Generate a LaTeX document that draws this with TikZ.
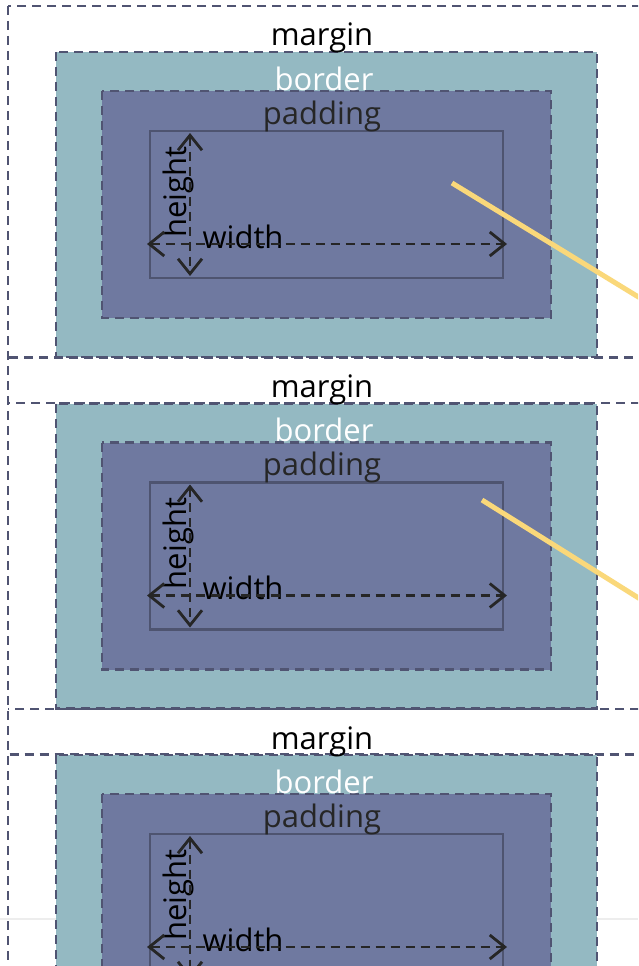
\documentclass[tikz,border=0pt]{standalone}
\usepackage{fontspec}
\setmainfont{Open Sans}
\usetikzlibrary{arrows.meta}

\definecolor{bordercol}{RGB}{148,185,194}
\definecolor{paddingcol}{RGB}{111,121,160}
\definecolor{edgecol}{RGB}{80,84,114}
\definecolor{contentcol}{RGB}{78,84,112}
\definecolor{pointercol}{RGB}{250,216,122}

\begin{document}
\begin{tikzpicture}[x=1pt, y=-1pt,
  boxline/.style={draw=edgecol, line width=2.8pt, dash pattern=on 9pt off 6pt},
  boxtext/.style={font=\fontsize{31}{36}\selectfont, inner sep=0pt, anchor=base},
  measure/.style={draw=black!85, line width=2.8pt, dash pattern=on 9pt off 6pt,
    {Straight Barb[length=15pt,width=24pt]}-{Straight Barb[length=15pt,width=24pt]}}]
\useasboundingbox (0,0) rectangle (638,966);
\clip (0,0) rectangle (638,966);
\fill[white] (0,0) rectangle (638,966);

% Faint line across the page
\draw[black!7, line width=2pt] (0,919) -- (638,919);

% Three stacked boxes
\foreach \n/\dy in {1/0, 2/351.5, 3/703} {
  \pgfmathsetmacro\ph{mod(\dy,15)}
  \begin{scope}[shift={(0,\dy)}]
    % Border and padding
    \filldraw[boxline, fill=bordercol] (56,52) rectangle (597,357);
    \filldraw[boxline, fill=paddingcol] (102,91) rectangle (551,318);
    % Content
    \draw[draw=contentcol, line width=2.6pt] (150,131) rectangle (503,278);
    % Margin
    \draw[boxline, dash phase=\ph pt] (8,6) rectangle (670,403);

    % Labels
    \node[boxtext] (marginlbl\n) at (322,46) {margin};
    \node[boxtext, text=white] (borderlbl\n) at (324,90) {border};
    \node[boxtext, text=black!85] (paddinglbl\n) at (322,124) {padding};
    \node[boxtext] (widthlbl\n) at (243,248) {width};
    \node[boxtext, rotate=90] (heightlbl\n) at (186,192) {height};

    % Width and height
    \coordinate (wl\n) at (147,244);
    \coordinate (wr\n) at (507,244);
    \coordinate (ht\n) at (190,133);
    \coordinate (hb\n) at (190,276);
    \draw[measure] (wl\n) -- (wr\n);
    \draw[measure] (ht\n) -- (hb\n);
  \end{scope}
}

% Pointers
\coordinate (ptr1) at (452,183);
\coordinate (ptrend1) at (645,301);
\coordinate (ptr2) at (482,500);
\coordinate (ptrend2) at (645,602);
\draw[pointercol, line width=5pt] (ptr1) -- (ptrend1);
\draw[pointercol, line width=5pt] (ptr2) -- (ptrend2);

\end{tikzpicture}
\end{document}
